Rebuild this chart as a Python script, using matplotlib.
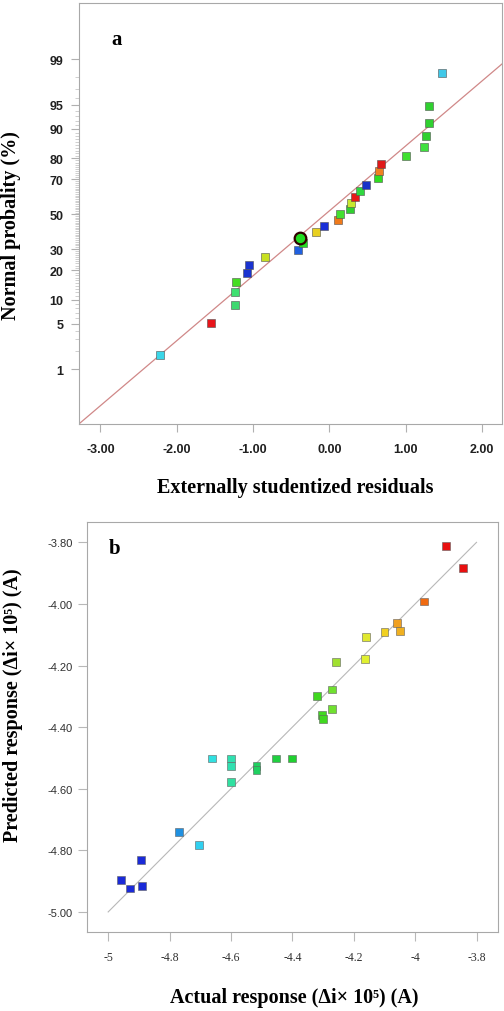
import numpy as np
import matplotlib
matplotlib.use('Agg')
import matplotlib.pyplot as plt
from statistics import NormalDist

plt.rcParams['axes.unicode_minus'] = False

# Panel a: normal probability plot of externally studentized residuals
resid = [-2.224, -1.547, -1.24, -1.236, -1.223, -1.075, -1.058, -0.848, -0.41, -0.345,
         -0.38, -0.17, -0.074, 0.109, 0.144, 0.266, 0.284, 0.33, 0.397, 0.485,
         0.642, 0.655, 0.677, 1.01, 1.245, 1.27, 1.30, 1.30, 1.477]
prob = [1.72, 5.17, 8.62, 12.07, 15.5, 19.0, 22.4, 25.9, 29.3, 33.5,
        36.2, 39.7, 43.1, 46.6, 50.0, 53.4, 56.9, 60.3, 63.8, 67.2,
        70.7, 74.1, 77.6, 81.0, 84.5, 87.9, 91.4, 94.8, 98.3]
colors_a = ['#3ad6e8', '#e8141a', '#3ed870', '#3ee070', '#44dd22', '#1a33d0', '#1a33d0',
            '#c8e020', '#2060e0', '#22dd22', '#22dd22', '#e8d020', '#1a30d8', '#f07a1a',
            '#44e030', '#30d030', '#c8e830', '#e81818', '#30d840', '#1a30c8', '#30dd20',
            '#f08020', '#e01818', '#40e030', '#40e040', '#30d030', '#30d030', '#30d030',
            '#40c8e8']
highlight = 10  # circled point
fit_slope, fit_icpt = 0.975, 0.05
prob_ticks = [1, 5, 10, 20, 30, 50, 70, 80, 90, 95, 99]
resid_ticks = [-3, -2, -1, 0, 1, 2]

# Panel b: predicted vs actual
actual = [-3.900, -3.845, -3.970, -4.058, -4.050, -4.100, -4.161, -4.163, -4.259, -4.272,
          -4.321, -4.272, -4.304, -4.301, -4.663, -4.601, -4.601, -4.601, -4.517, -4.517,
          -4.452, -4.401, -4.770, -4.703, -4.894, -4.959, -4.929, -4.891]
predicted = [-3.813, -3.884, -3.992, -4.062, -4.088, -4.090, -4.108, -4.180, -4.189, -4.278,
             -4.298, -4.341, -4.360, -4.373, -4.502, -4.502, -4.526, -4.578, -4.526, -4.538,
             -4.502, -4.502, -4.741, -4.783, -4.832, -4.895, -4.924, -4.917]
colors_b = ['#e81010', '#e81010', '#f06a10', '#f0a020', '#f0b020', '#f0d020', '#e0e830',
            '#e0f030', '#a0e030', '#70e030', '#40d820', '#70e030', '#40d820', '#40d820',
            '#30e0e0', '#30e0b0', '#30e0b0', '#30e0a0', '#20d060', '#20d060', '#20d040',
            '#20d030', '#2090e0', '#30d0f0', '#1a2ad8', '#1a2ad8', '#1a2ad8', '#1a2ad8']
act_ticks = [-5, -4.8, -4.6, -4.4, -4.2, -4, -3.8]
act_labels = ['-5', '-4.8', '-4.6', '-4.4', '-4.2', '-4', '-3.8']
pred_ticks = [-3.8, -4.0, -4.2, -4.4, -4.6, -4.8, -5.0]

serif = ['Liberation Serif', 'DejaVu Serif']
sans = ['Liberation Sans', 'DejaVu Sans']
spine_c = '#a8a8a8'
lab_fs = 14.5

fig = plt.figure(figsize=(5.04, 10.12), dpi=100)

# ---- panel a
ax1 = fig.add_axes([0.1567, 0.580, 0.839, 0.416])
nd = NormalDist()
z = [nd.inv_cdf(p / 100) for p in prob]
xs = np.array([-3.28, 2.26])
ax1.plot(xs, fit_slope * xs + fit_icpt, color='#d08888', lw=0.9, zorder=1)
for i, (r, zz, c) in enumerate(zip(resid, z, colors_a)):
    if i == highlight:
        ax1.scatter(r, zz, marker='o', s=70, facecolor=c, edgecolor='#300000', linewidths=1.6, zorder=3)
    else:
        ax1.scatter(r, zz, marker='s', s=36, color=c, edgecolor='#505050', linewidths=0.4, zorder=2)
ax1.set_xlim(-3.28, 2.26)
ax1.set_ylim(-3.15, 3.17)
ax1.set_yticks([nd.inv_cdf(p / 100) for p in prob_ticks])
ax1.set_yticklabels([str(p) for p in prob_ticks])
ax1.set_yticks([nd.inv_cdf(p / 100) for p in range(1, 100)], minor=True)
ax1.set_xticks(resid_ticks)
ax1.set_xticklabels(['%.2f' % t for t in resid_ticks])
ax1.tick_params(which='major', length=6, color='#b0b0b0', labelsize=9, labelcolor='#202020', pad=5)
ax1.tick_params(axis='x', pad=8)
ax1.tick_params(which='minor', length=3, color='#c8c8c8')
for lab in ax1.get_xticklabels() + ax1.get_yticklabels():
    lab.set_fontweight('bold')
    lab.set_family(sans)
for s in ax1.spines.values():
    s.set_color(spine_c)
    s.set_linewidth(0.8)
ax1.text(0.089, 0.915, 'a', transform=ax1.transAxes, family=serif, fontsize=15,
         fontweight='bold', ha='center', va='center')
ax1.set_xlabel('Externally studentized residuals', family=serif, fontsize=lab_fs,
               fontweight='bold', va='center')
ax1.xaxis.set_label_coords(0.511, -0.150)
ax1.set_ylabel('Normal probality (%)', family=serif, fontsize=lab_fs, fontweight='bold',
               va='center')
ax1.yaxis.set_label_coords(-0.161, 0.473)

# ---- panel b
ax2 = fig.add_axes([0.1726, 0.0781, 0.8155, 0.4054])
ax2.plot([-5, -3.8], [-5, -3.8], color='#b8b8b8', lw=0.8, zorder=1)
ax2.scatter(actual, predicted, marker='s', s=32, c=colors_b, edgecolors='#606060',
            linewidths=0.4, zorder=2)
ax2.set_xlim(-5.069, -3.73)
ax2.set_ylim(-5.065, -3.733)
ax2.set_xticks(act_ticks)
ax2.set_xticklabels(act_labels, family=serif, fontsize=8.5)
ax2.set_yticks(pred_ticks)
ax2.set_yticklabels(['%.2f' % t for t in pred_ticks], family=sans, fontsize=8)
ax2.tick_params(length=6.5, color='#b8b8b8', labelcolor='#303030', pad=4)
ax2.tick_params(axis='x', pad=7)
for s in ax2.spines.values():
    s.set_color(spine_c)
    s.set_linewidth(0.8)
ax2.text(0.066, 0.935, 'b', transform=ax2.transAxes, family=serif, fontsize=15,
         fontweight='bold', ha='center', va='center')
ax2.set_xlabel('Actual response (Δi× 10⁵) (A)', family=serif, fontsize=lab_fs,
               fontweight='bold', va='center')
ax2.xaxis.set_label_coords(0.505, -0.158)
ax2.set_ylabel('Predicted response (Δi× 10⁵) (A)', family=serif, fontsize=lab_fs,
               fontweight='bold', va='center')
ax2.yaxis.set_label_coords(-0.180, 0.556)

fig.savefig('out.png', dpi=100)
